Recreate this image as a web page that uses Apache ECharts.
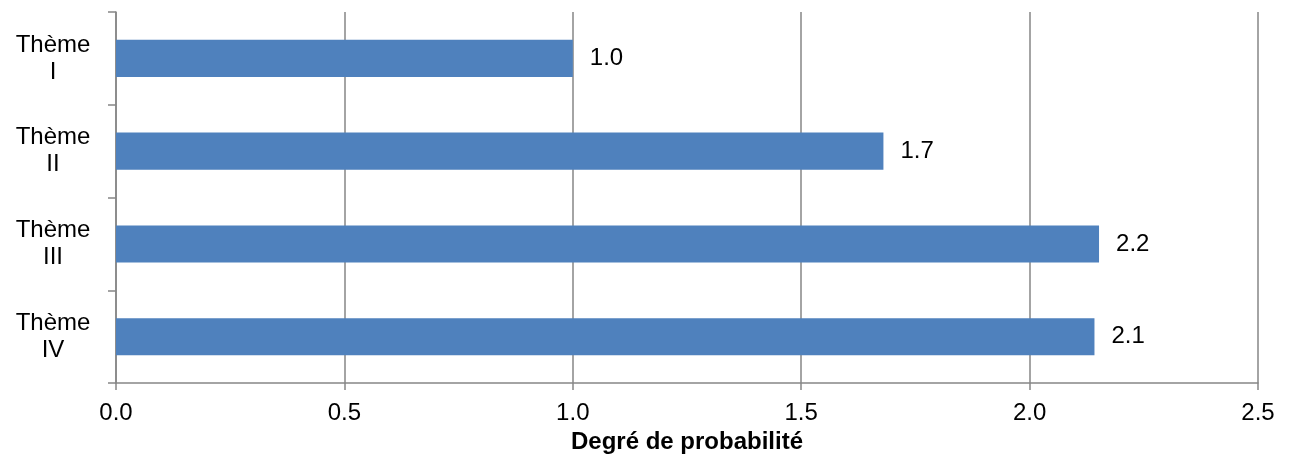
<!DOCTYPE html>
<html>
<head>
<meta charset="utf-8">
<script src="https://cdn.jsdelivr.net/npm/echarts@6/dist/echarts.min.js"></script>
<style>html,body{margin:0;padding:0;background:#fff;overflow:hidden}#c{width:100vw;height:100vh}</style>
</head>
<body>
<div id="c"></div>
<script>
const categories = ['Thème\nI', 'Thème\nII', 'Thème\nIII', 'Thème\nIV'];
const values = [1.0, 1.68, 2.152, 2.142];
const xTicks = { min: 0, max: 2.5, interval: 0.5 };
const axisName = 'Degré de probabilité';

const chart = echarts.init(document.getElementById('c'));
const font = '"Liberation Sans", Arial, sans-serif';
chart.setOption({
  animation: false,
  grid: { left: 116, right: 35, top: 12, bottom: 69, containLabel: false },
  xAxis: {
    type: 'value', min: xTicks.min, max: xTicks.max, interval: xTicks.interval,
    name: axisName, nameLocation: 'middle', nameGap: 42,
    nameTextStyle: { fontFamily: font, fontSize: 24, fontWeight: 'bold', color: '#000' },
    axisLine: { show: true, lineStyle: { color: '#868686', width: 1.5 } },
    axisTick: { show: true, length: 7, lineStyle: { color: '#868686', width: 1.5 } },
    splitLine: { show: true, lineStyle: { color: '#868686', width: 1.5 } },
    axisLabel: { fontFamily: font, fontSize: 24, color: '#000', margin: 18,
      formatter: v => v.toFixed(1) }
  },
  yAxis: {
    type: 'category', data: categories, inverse: true,
    axisLine: { show: true, lineStyle: { color: '#868686', width: 1.5 } },
    axisTick: { show: true, length: 8, lineStyle: { color: '#868686', width: 1.5 } },
    axisLabel: { fontFamily: font, fontSize: 24, color: '#000', margin: 63, align: 'center', lineHeight: 27 }
  },
  series: [{
    type: 'bar', data: values, barWidth: '40%',
    itemStyle: { color: '#4F81BD' },
    label: { show: true, position: 'right', distance: 17, fontFamily: font, fontSize: 24, color: '#000',
      formatter: p => p.value.toFixed(1) }
  }]
});
</script>
</body>
</html>
